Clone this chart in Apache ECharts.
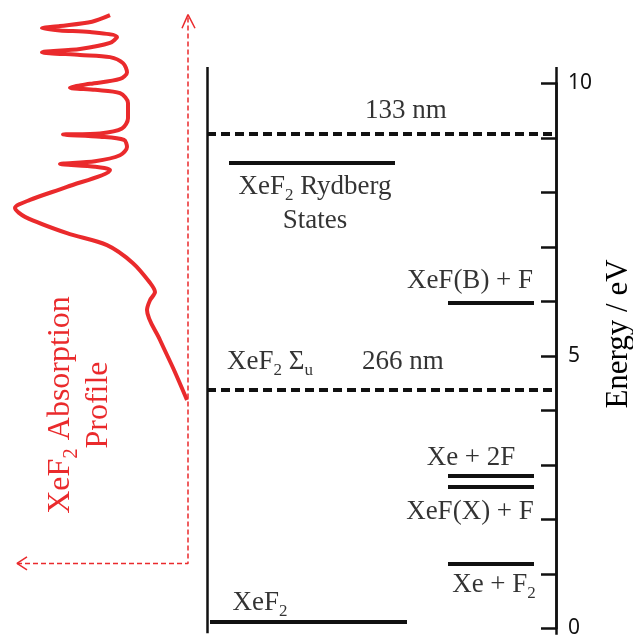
<!DOCTYPE html>
<html><head><meta charset="utf-8">
<script src="https://cdn.jsdelivr.net/npm/echarts@6/dist/echarts.min.js"></script>
<style>html,body{margin:0;padding:0;background:#fff}#c{width:633px;height:644px}</style>
</head><body><div id="c"></div>
<script>
// ---------------- data ----------------
const levelNames = ['XeF2', 'Xe + F2', 'XeF(X) + F', 'Xe + 2F', 'XeF(B) + F', 'XeF2 Rydberg States'];
const levelEnergies = [0.12, 1.19, 2.59, 2.80, 5.97, 8.55];          // eV
const photonNames = ['266 nm', '133 nm'];
const photonEnergies = [4.38, 9.08];                                  // eV
const energyTickLabels = [0, 5, 10];
// XeF2 absorption profile (energy in eV, absorbance in arbitrary units)
const absEnergy = [11.25, 11.13, 11.05, 11.01, 10.97, 10.94, 10.85, 10.74, 10.63, 10.57, 10.52, 10.48,
  10.37, 10.20, 10.08, 9.99, 9.92, 9.88, 9.82, 9.64, 9.36, 9.17, 9.08, 9.06, 9.02, 8.96, 8.83, 8.68,
  8.57, 8.52, 8.47, 8.41, 8.10, 7.86, 7.71, 7.55, 7.25, 7.03, 6.70, 6.34, 6.17, 6.02, 5.84, 5.29, 4.74, 4.19];
const absValue = [78, 96, 128, 146, 128, 98, 71, 78, 108, 146, 108, 78,
  65, 61, 68, 98, 118, 93, 68, 60, 60, 66, 88, 125, 88, 64, 61, 68,
  93, 128, 93, 78, 121, 158, 173, 163, 121, 81, 55, 38, 33, 38, 41, 28, 14, 1];
// text labels (rich markup for subscripts) and their energies
const textLabels = ['{t|133 nm}', '{t|XeF}{s|2}{t| Rydberg}\n{t|States}', '{t|XeF(B) + F}',
  '{t|XeF}{s|2}{t| Σ}{s|u}', '{t|266 nm}', '{t|Xe + 2F}', '{t|XeF(X) + F}', '{t|Xe + F}{s|2}', '{t|XeF}{s|2}'];
const textEnergies = [9.49, 7.79, 6.37, 4.89, 4.89, 3.13, 2.14, 0.80, 0.47];

// ---------------- layout (horizontal placement, not data) ----------------
const levelX = [[210, 407], [448, 534], [448, 534], [448, 534], [448, 534], [229, 395]];
const photonX = [207, 556];
const textX = [406, 315, 470, 270, 403, 471, 470, 494, 260];

const serif = "'Liberation Serif', 'Times New Roman', serif";
const ink = '#111';
const red = '#ea2a2c';
const rich = {
  t: {fontFamily: serif, fontSize: 27, lineHeight: 34, color: '#000', align: 'center'},
  s: {fontFamily: serif, fontSize: 17, lineHeight: 14, color: '#000', padding: [18, 0, 0, 0], align: 'center'}
};

const chart = echarts.init(document.getElementById('c'));
chart.setOption({
  animation: false,
  backgroundColor: '#fff',
  grid: [
    {left: 0, right: 77, top: 83.3, bottom: 15.7, outerBoundsMode: 'none'},
    {left: 0, width: 208, top: 83.3, bottom: 15.7, outerBoundsMode: 'none'}
  ],
  xAxis: [
    {gridIndex: 0, type: 'value', min: 0, max: 556, show: false},
    {gridIndex: 1, type: 'value', min: -20, max: 188, inverse: true, show: false}
  ],
  yAxis: [
    {gridIndex: 0, type: 'value', position: 'right', min: 0, max: 10, interval: 1,
      axisLine: {show: true, onZero: false, lineStyle: {color: ink, width: 2.5}}, splitLine: {show: false},
      axisTick: {show: true, inside: true, length: 15, lineStyle: {color: ink, width: 2.5}},
      axisLabel: {show: true, margin: 12, fontFamily: "'Noto Sans', sans-serif", fontSize: 21, color: '#111',
        padding: [8, 0, 0, 0],
        formatter: v => energyTickLabels.includes(v) ? String(v) : ''}},
    {gridIndex: 1, type: 'value', min: 0, max: 10, show: false}
  ],
  series: [
    // vertical frame lines
    {type: 'lines', coordinateSystem: 'cartesian2d', xAxisIndex: 0, yAxisIndex: 0, silent: true, clip: false,
      lineStyle: {color: ink, width: 2.5, opacity: 1},
      data: [{coords: [[photonX[0], -0.09], [photonX[0], 10.3]]}, {coords: [[photonX[1], -0.12], [photonX[1], 10.3]]}]},
    // energy levels
    {type: 'lines', coordinateSystem: 'cartesian2d', xAxisIndex: 0, yAxisIndex: 0, silent: true, clip: false,
      lineStyle: {color: ink, width: 4, opacity: 1},
      data: levelEnergies.map((e, i) => ({name: levelNames[i], coords: [[levelX[i][0], e], [levelX[i][1], e]]}))},
    // photon energies (dashed)
    {type: 'lines', coordinateSystem: 'cartesian2d', xAxisIndex: 0, yAxisIndex: 0, silent: true, clip: false,
      lineStyle: {color: ink, width: 4, opacity: 1, type: [9, 5]},
      data: photonEnergies.map((e, i) => ({name: photonNames[i], coords: [[photonX[0], e], [photonX[1], e]]}))},
    // labels
    {type: 'scatter', xAxisIndex: 0, yAxisIndex: 0, symbolSize: 0, silent: true, clip: false,
      label: {show: true, position: 'inside', align: 'center', verticalAlign: 'middle', rich: rich},
      data: textLabels.map((t, i) => ({value: [textX[i], textEnergies[i]], label: {formatter: t}}))},
    // absorption profile
    {type: 'line', xAxisIndex: 1, yAxisIndex: 1, showSymbol: false, smooth: 0.3, clip: false, silent: true,
      lineStyle: {color: red, width: 4}, itemStyle: {color: red},
      data: absValue.map((a, i) => [a, absEnergy[i]])},
    // dashed axis arrows for absorption
    {type: 'line', xAxisIndex: 1, yAxisIndex: 1, showSymbol: false, clip: false, silent: true,
      lineStyle: {color: red, width: 1.5, type: [5, 3]}, itemStyle: {color: red},
      data: [[171, 1.19], [0, 1.19], [0, 11.25]]},
    {type: 'line', xAxisIndex: 1, yAxisIndex: 1, showSymbol: false, clip: false, silent: true,
      lineStyle: {color: red, width: 1.5}, itemStyle: {color: red},
      data: [[6, 11.01], [0, 11.26], [-7, 11.01]]},
    {type: 'line', xAxisIndex: 1, yAxisIndex: 1, showSymbol: false, clip: false, silent: true,
      lineStyle: {color: red, width: 1.5}, itemStyle: {color: red},
      data: [[161, 1.31], [171, 1.19], [161, 1.07]]}
  ],
  graphic: [
    {type: 'text', x: 80, y: 405, rotation: Math.PI / 2, silent: true,
      style: {text: '{r|XeF}{rs|2}{r| Absorption}\n{r|Profile}', align: 'center', verticalAlign: 'middle', fill: red,
        rich: {
          r: {fontFamily: serif, fontSize: 32, lineHeight: 38, fill: red, align: 'center'},
          rs: {fontFamily: serif, fontSize: 21, lineHeight: 16, fill: red, padding: [20, 0, 0, 0], align: 'center'}
        }}},
    {type: 'text', x: 619, y: 334, rotation: Math.PI / 2, silent: true,
      style: {text: 'Energy / eV', align: 'center', verticalAlign: 'middle', fill: '#000',
        fontFamily: serif, fontSize: 31}}
  ]
});
</script>
</body></html>
